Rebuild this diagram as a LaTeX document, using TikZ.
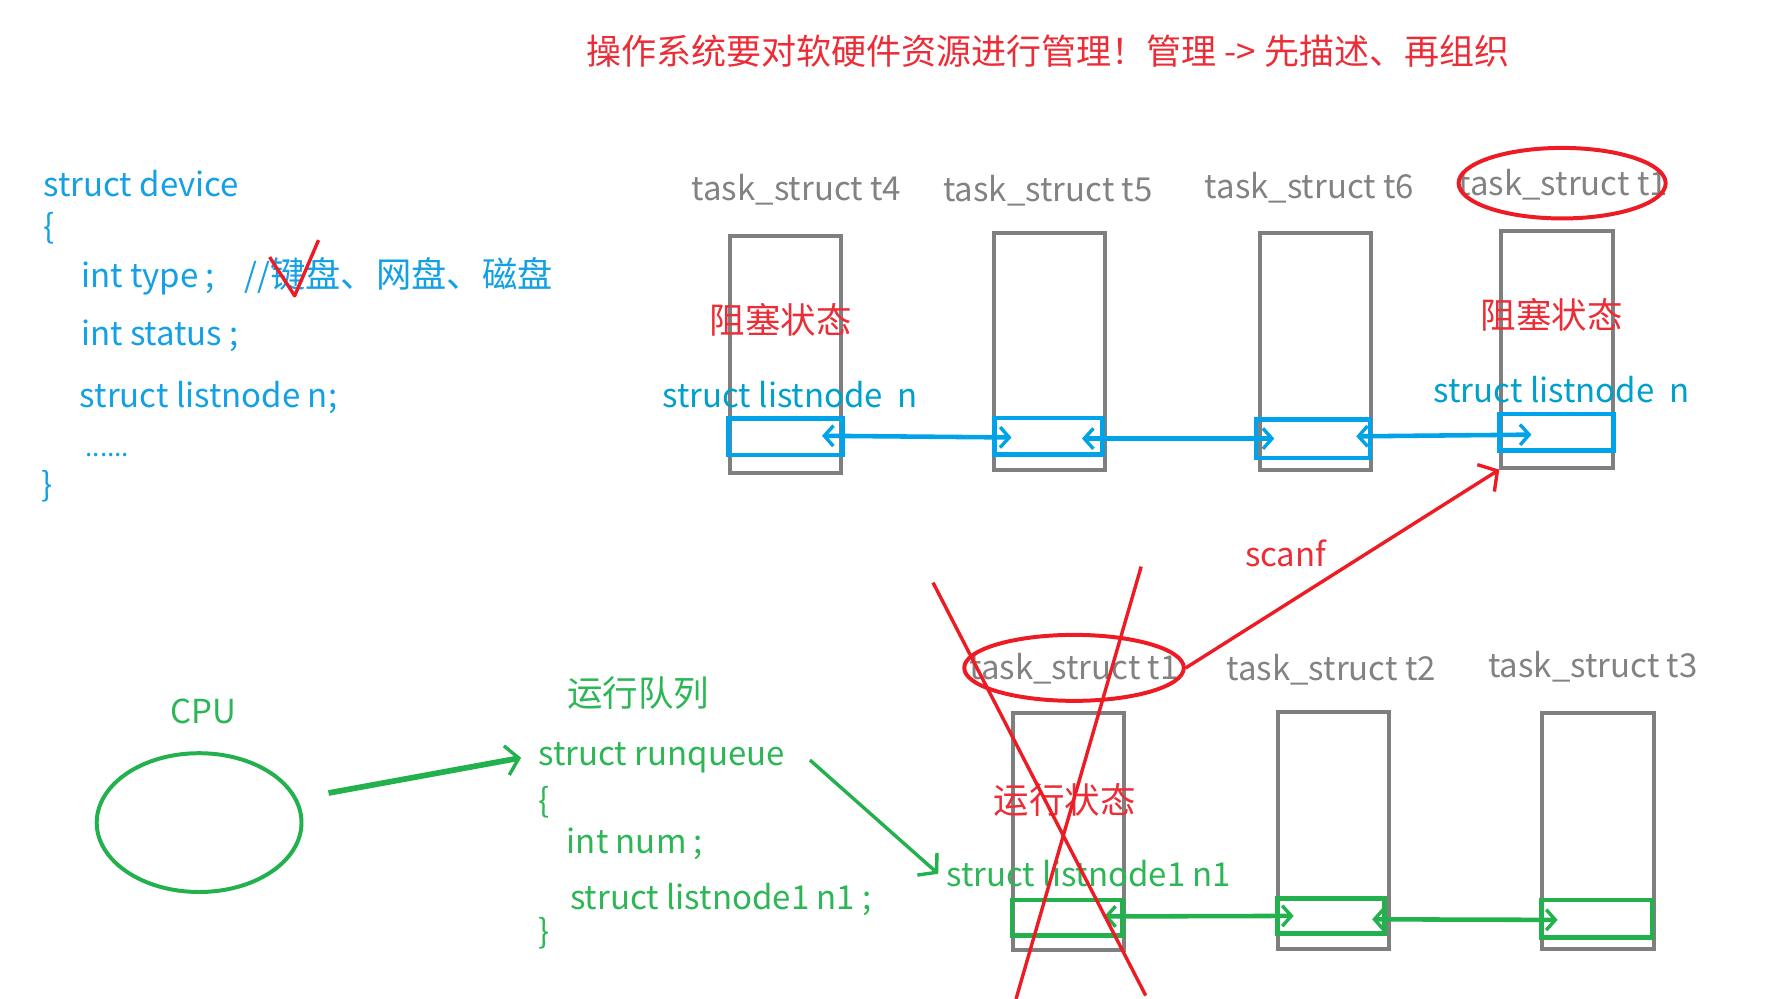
\documentclass[tikz,border=0pt]{standalone}
\usepackage{fontspec}
\setmainfont{Noto Sans CJK SC}
\usetikzlibrary{arrows.meta,calc,shapes.geometric}
\definecolor{pblue}{RGB}{0,162,232}
\definecolor{tblue}{RGB}{0,160,205}
\definecolor{cblue}{RGB}{20,160,228}
\definecolor{pgreen}{RGB}{34,177,76}
\definecolor{tgreen}{RGB}{45,182,85}
\definecolor{pred}{RGB}{237,28,36}
\definecolor{tred}{RGB}{235,45,55}
\definecolor{pgray}{RGB}{127,127,127}
\definecolor{tgray}{RGB}{130,130,130}
\newcommand\bigcjk[1]{{\fontsize{31}{36}\selectfont #1}}
\begin{document}
\begin{tikzpicture}[x=1pt,y=-1pt,
  lbl/.style={inner sep=0pt, font=\fontsize{29}{34}\selectfont},
  cjklbl/.style={inner sep=0pt, font=\fontsize{31.2}{36}\selectfont},
  code/.style={lbl, anchor=west},
  bluecode/.style={code, text=cblue},
  greencode/.style={code, text=tgreen},
  tasklbl/.style={lbl, text=tgray},
  statelbl/.style={cjklbl, text=tred},
  taskbox/.style={draw=pgray, line width=3.5pt, minimum width=98pt, minimum height=208pt, inner sep=0pt},
  bluenode/.style={draw=pblue, line width=4pt, minimum width=100pt, minimum height=32pt, inner sep=0pt},
  greennode/.style={draw=pgreen, line width=4pt, minimum width=97pt, minimum height=31pt, inner sep=0pt},
  ring/.style={ellipse, draw, line width=3.5pt, inner sep=0pt},
  bluelink/.style={draw=pblue, line width=4pt, {Straight Barb[length=8pt,width=18pt,line width=3pt]}-{Straight Barb[length=8pt,width=18pt,line width=3pt]}},
  greenlink/.style={draw=pgreen, line width=4pt, {Straight Barb[length=8pt,width=18pt,line width=3pt]}-{Straight Barb[length=8pt,width=18pt,line width=3pt]}},
  greenarrow/.style={draw=pgreen, -{Straight Barb[length=11pt,width=26pt,line width=3pt]}},
  redarrow/.style={draw=pred, line width=3pt, -{Straight Barb[length=12pt,width=28pt,line width=3pt]}},
  redline/.style={draw=pred, line width=3pt}
]
\useasboundingbox (0,0) rectangle (1568,878);

% title
\node[cjklbl, text=tred, font=\fontsize{30.8}{36}\selectfont] (title) at (921,45) {操作系统要对软硬件资源进行管理！管理 -> 先描述、再组织};

% struct device
\node[bluecode] (sd) at (38,161) {struct device};
\node[bluecode] (sdo) at (38,201) {\{};
\node[bluecode] (sdt) at (71,243) {int type ;\ \ \ \ //\bigcjk{键盘、网盘、磁盘}};
\node[bluecode] (sds) at (71,295) {int status ;};
\node[bluecode] (sdn) at (70,349) {struct listnode n;};
\node[bluecode, font=\fontsize{23}{28}\selectfont] (sdd) at (75,400) {......};
\node[bluecode] (sdc) at (36,427) {\}};
\draw[redline, line join=round] (237,226) -- (259,260) -- (280,211);

% top task structs
\node[taskbox] (bt4) at (690.5,311.5) {};
\node[taskbox] (bt5) at (922.5,309) {};
\node[taskbox] (bt6) at (1156,309) {};
\node[taskbox] (bt1) at (1368.5,307) {};
\node[tasklbl] (lt4) at (700,167) {task\_struct t4};
\node[tasklbl] (lt5) at (921,168) {task\_struct t5};
\node[tasklbl] (lt6) at (1151,165) {task\_struct t6};
\node[tasklbl] (lt1) at (1374,162) {task\_struct t1};
\node[ring, draw=pred, minimum width=182pt, minimum height=62pt] (et1) at (1373,161) {};

\node[statelbl] (s4) at (686,281) {阻塞状态};
\node[statelbl] (s1) at (1364,277) {阻塞状态};
\node[lbl, text=tblue] (n4) at (694.5,347) {struct listnode\ \ n};
\node[lbl, text=tblue] (n1) at (1372.5,342) {struct listnode\ \ n};

\node[bluenode] (l4) at (690.5,384) {};
\node[bluenode, minimum width=95pt] (l5) at (921.5,383.5) {};
\node[bluenode, minimum height=34pt] (l6) at (1154,385.5) {};
\node[bluenode] (l1) at (1368,380) {};

\draw[bluelink] ($(l4.east)+(-20,-1)$) -- ($(l5.west)+(17,1)$);
\draw[bluelink] ($(l5.east)+(-20,2)$) -- ($(l6.west)+(18,0)$);
\draw[bluelink] ($(l6.east)+(-14,-2)$) -- ($(l1.west)+(30,2)$);

% bottom task structs
\node[taskbox] (bb1) at (939,731) {};
\node[taskbox] (bb2) at (1172,730) {};
\node[taskbox] (bb3) at (1404.5,730.5) {};
\node[tasklbl] (lb1) at (944,588) {task\_struct t1};
\node[tasklbl] (lb2) at (1170,589) {task\_struct t2};
\node[tasklbl] (lb3) at (1400,586) {task\_struct t3};
\node[ring, draw=pred, minimum width=193pt, minimum height=58pt] (eb1) at (944,587) {};

\node[statelbl] (sr) at (936,703) {运行状态};
\node[lbl, text=tgreen] (nb1) at (957,768) {struct listnode1 n1};

\node[greennode] (g1) at (938,806.5) {};
\node[greennode, minimum width=94pt] (g2) at (1170,805) {};
\node[greennode, minimum height=33pt] (g3) at (1403.5,807.5) {};

\draw[greenlink] ($(g1.east)+(-18,-1)$) -- ($(g2.west)+(16,0)$);
\draw[greenlink] ($(g2.east)+(-13,3)$) -- ($(g3.west)+(16,1)$);

% red cross over t1
\draw[redline] (820,512) -- (1007,875);
\draw[redline] (1003,498) -- (893,878);

% scanf
\draw[redarrow] (eb1.east) -- (bt1.south west);
\node[lbl, text=tred] (scanf) at (1130,486) {scanf};

% CPU and run queue
\node[lbl, text=tgreen] (cpulbl) at (179,625) {CPU};
\node[ring, draw=pgreen, minimum width=180pt, minimum height=122pt] (cpu) at (175,723) {};
\node[cjklbl, text=tgreen] (rql) at (561,609) {运行队列};
\node[greencode] (rq) at (473,666) {struct runqueue};
\node[greencode] (rqo) at (473,705) {\{};
\node[greencode] (rqn) at (498,742) {int num ;};
\node[greencode] (rql1) at (501,791) {struct listnode1 n1 ;};
\node[greencode] (rqc) at (473,820) {\}};

\draw[greenarrow, line width=5pt] ($(cpu.east)+(22,-26)$) -- ($(rq.west)+(-15,0)$);
\draw[greenarrow, line width=3pt] ($(rq.east)+(22,2)$) -- ($(nb1.west)+(-7,0)$);
\end{tikzpicture}
\end{document}
